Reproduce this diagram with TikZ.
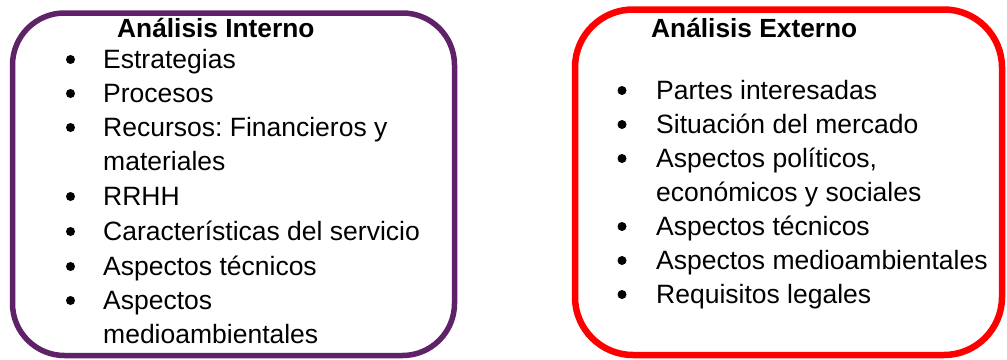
\documentclass[tikz,border=0pt]{standalone}
\usepackage{fontspec}
\setmainfont{Liberation Sans}
\frenchspacing
\definecolor{boxpurple}{RGB}{95,33,103}
\definecolor{boxred}{RGB}{255,0,0}
\begin{document}
\begin{tikzpicture}[x=1pt,y=-1pt,
  txt/.style={font=\fontsize{26.5}{30}\selectfont\frenchspacing, anchor=base west, inner sep=0pt},
  head/.style={txt, font=\fontsize{26.3}{30}\selectfont\bfseries},
  bul/.style={circle, fill=black, inner sep=0pt, minimum size=9pt},
  frame/.style={rounded corners=52pt, fill=white}]
\useasboundingbox (0,0) rectangle (1007,359);
% left box
\draw[frame, draw=boxpurple, line width=5.5pt] (12.5,13) rectangle (454.5,355.5);
\node[head] (hl) at (117,37) {Análisis Interno};
\foreach \n/\y in {b1/68,b2/102,b3/136,b4/205,b5/240,b6/275,b7/309}
  \node[bul] (l\n) at (70.5,\y-8.5) {};
\node[txt] (l1) at (103,68) {Estrategias};
\node[txt] (l2) at (103,102) {Procesos};
\node[txt] (l3) at (103,136) {Recursos: Financieros y};
\node[txt] (l3b) at (103,170) {materiales};
\node[txt] (l4) at (103,205) {RRHH};
\node[txt] (l5) at (103,240) {Características del servicio};
\node[txt] (l6) at (103,275) {Aspectos técnicos};
\node[txt] (l7) at (103,309) {Aspectos};
\node[txt] (l7b) at (103,343) {medioambientales};
% right box
\draw[frame, draw=boxred, line width=6.5pt, rounded corners=58pt] (575,9.5) rectangle (1002,355);
\node[head] (hr) at (651,37) {Análisis Externo};
\foreach \n/\y in {b1/99,b2/133,b3/167,b4/235,b5/269,b6/303}
  \node[bul] (r\n) at (622,\y-8.5) {};
\node[txt] (r1) at (656,99) {Partes interesadas};
\node[txt] (r2) at (656,133) {Situación del mercado};
\node[txt] (r3) at (656,167) {Aspectos políticos,};
\node[txt] (r3b) at (656,201) {económicos y sociales};
\node[txt] (r4) at (656,235) {Aspectos técnicos};
\node[txt] (r5) at (656,269) {Aspectos medioambientales};
\node[txt] (r6) at (656,303) {Requisitos legales};
\end{tikzpicture}
\end{document}
